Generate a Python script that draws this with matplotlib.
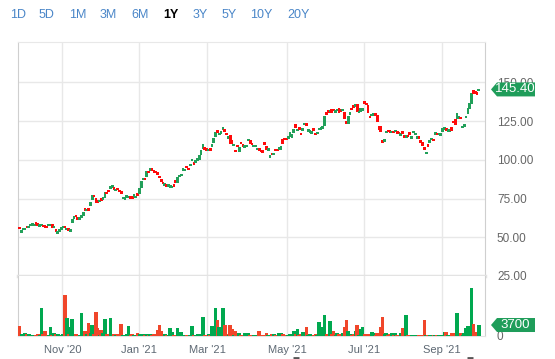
import numpy as np
import pandas as pd
import matplotlib
matplotlib.use('Agg')
import matplotlib.pyplot as plt
from matplotlib.patches import Polygon
import matplotlib.transforms as mtransforms

plt.rcParams['font.family'] = ['Liberation Sans', 'DejaVu Sans']

# trading days, Sep 29 2020 .. Sep 30 2021
holidays = ['2020-11-26', '2020-12-25', '2021-01-01', '2021-01-18', '2021-02-15',
            '2021-04-02', '2021-05-31', '2021-07-05', '2021-09-06']
days = pd.bdate_range('2020-09-29', '2021-09-30')
days = days[~days.isin(pd.to_datetime(holidays))]

opens = [56.5, 53, 55, 55, 57, 56, 57, 58, 57.5, 59.5,
         59, 57, 57.5, 57.5, 57.5, 57, 57, 57.5, 58.5, 56,
         55, 52.5, 53.5, 55, 56, 57, 55, 55.5, 54, 59,
         62, 64.5, 62.5, 61.5, 62.5, 64, 68.5, 67, 68.5, 70,
         74, 77, 75.5, 74, 73, 75, 74.5, 75.5, 79, 80.5,
         81, 82, 82, 80, 81.5, 80.5, 79.5, 75, 74.5, 75.5,
         75.5, 76, 76, 76.5, 75.5, 78, 78, 82, 87, 88,
         89, 92.5, 93, 94.5, 93, 92.5, 92, 89.5, 87, 85.5,
         83, 84, 82.5, 82, 82, 84, 87, 85, 89, 90,
         92.5, 93, 95.5, 94.5, 96, 99, 98, 98.5, 99, 100,
         103, 107, 108, 107, 106, 107.5, 108, 111, 115, 119,
         116, 117, 119, 119, 117.5, 114, 116, 113, 109, 106,
         109, 105, 111, 109.5, 108, 108.5, 112, 113, 111, 108.5,
         108.5, 106.5, 107, 106, 105.5, 111, 109, 106.5, 101.5, 104,
         103.5, 106.5, 106.5, 107, 106, 113.5, 114, 113.5, 114, 115,
         114, 117, 123, 118.5, 121, 117, 119, 122.5, 124, 118.5,
         117.5, 117.5, 120, 117, 116.5, 119.5, 120, 120.5, 122, 130.5,
         132, 131, 132.5, 132.5, 131, 131.5, 133.5, 132, 131.5, 131,
         125, 123, 129, 133, 134.5, 134.5, 136, 130.5, 131, 132,
         137.5, 136.5, 135.5, 128, 128.5, 129, 129.5, 129, 122, 122,
         112.5, 112, 117.5, 119, 119, 117.5, 118.5, 118, 118, 117.5,
         116, 118, 116, 114.5, 116, 117.5, 114, 117.5, 116, 114,
         115, 112.5, 111.5, 108.5, 104, 109.5, 111.5, 113, 113, 116.5,
         117.5, 116, 116, 118, 120, 120, 118.5, 118.5, 121, 125,
         126, 126, 126.5, 127.5, 120.5, 121, 127, 129.5, 133, 136,
         145, 144, 143.5, 144.5]

closes = [55.5, 54.5, 55.5, 55.8, 56, 57.5, 58.5, 58.5, 58, 58.5,
          57.5, 58, 58.5, 57, 56.5, 56, 58.5, 58.5, 56, 57,
          53.5, 53.5, 55, 56, 57, 56, 55.5, 54.3, 55, 61.5,
          63.5, 63, 61.5, 62.5, 64, 66.5, 67.5, 68, 67.5, 72.5,
          77.5, 76, 72, 72, 74, 74, 75.5, 79, 78, 79.5,
          83, 83.5, 81, 81, 80.5, 79.5, 78.5, 76, 75.5, 77,
          76.5, 75.5, 75.5, 77.5, 76.5, 77, 81.5, 86, 88.5, 87.5,
          92.5, 92, 95, 92.5, 92, 91.5, 90, 88, 86, 84.5,
          85, 83, 84.5, 83.5, 83, 83, 85, 89, 90, 90.5,
          95, 93.5, 95, 93.5, 97, 100.5, 97, 99, 101, 103,
          106, 110, 106, 106, 106.5, 106, 110, 114, 118, 117,
          117, 118, 121, 118.5, 116, 115, 110, 110.5, 110, 105.5,
          108.5, 108, 110.5, 109, 109, 109, 113.5, 110.5, 109.5, 109.5,
          109, 107.5, 106, 105, 105, 110, 106.5, 107, 102.5, 103.5,
          104, 106, 106, 107.5, 109, 110.5, 113, 113, 114.5, 118,
          116.5, 120, 120.5, 120, 119.5, 116, 120, 124, 122, 119.5,
          119, 118, 119, 116.5, 118, 120.5, 120.5, 121, 128, 129.5,
          130.5, 132, 130.5, 131.5, 131.5, 132.5, 130.5, 131.5, 132.5, 126,
          123, 128, 131, 132.5, 134, 135.5, 131, 131, 133.5, 133,
          136.5, 135.5, 130.5, 127, 129, 129.5, 129, 124.5, 119, 118,
          111, 113, 118.5, 118, 117.5, 118.5, 117.5, 119, 117, 117,
          116.5, 117, 114, 115.5, 115, 116.5, 115, 118.5, 117.5, 115,
          114, 111, 109, 106.5, 104.5, 109, 112, 114, 112.5, 117.5,
          116, 117, 116.5, 120.5, 120.5, 119, 119, 119.5, 118.5, 123.5,
          122.5, 130, 128, 126.5, 121.5, 123, 128, 133.5, 136.5, 143,
          142.5, 143, 142, 145.4]

volumes = [3400, 700, 600, 900, 600, 600, 400, 500, 500, 500,
           700, 500, 9400, 600, 1700, 500, 400, 3100, 500, 1000,
           600, 600, 500, 400, 600, 13800, 5900, 600, 3100, 5600,
           700, 600, 500, 400, 7600, 700, 1700, 600, 4300, 900,
           3700, 600, 8100, 2800, 500, 2000, 1000, 5700, 600, 500,
           5900, 600, 600, 500, 600, 500, 4000, 500, 500, 600,
           3400, 400, 600, 500, 400, 900, 800, 600, 700, 500,
           800, 400, 600, 500, 700, 400, 2000, 3700, 1800, 500,
           600, 400, 500, 2700, 1400, 500, 400, 2800, 500, 1300,
           400, 300, 400, 300, 500, 3500, 400, 500, 600, 500,
           700, 6500, 400, 500, 600, 400, 3500, 700, 9500, 5400,
           3100, 600, 9500, 3700, 600, 500, 3700, 2200, 500, 1700,
           600, 1000, 500, 400, 1000, 900, 1000, 500, 400, 500,
           400, 500, 1700, 400, 300, 500, 1000, 400, 500, 600,
           600, 500, 400, 1000, 1000, 800, 500, 400, 500, 600,
           700, 1700, 600, 2200, 500, 600, 1300, 500, 3100, 500,
           600, 500, 400, 700, 500, 4800, 3000, 600, 7100, 800,
           700, 5100, 600, 1700, 500, 900, 600, 500, 900, 3100,
           5400, 1700, 600, 500, 600, 1700, 3700, 500, 2200, 3100,
           700, 600, 500, 600, 1300, 1000, 500, 1000, 700, 3000,
           6500, 800, 1000, 500, 600, 900, 500, 900, 400, 500,
           900, 2600, 600, 7100, 300, 300, 200, 300, 200, 300,
           300, 300, 400, 5400, 300, 200, 300, 200, 300, 200,
           300, 200, 300, 400, 1300, 1300, 400, 500, 900, 900,
           800, 7800, 800, 900, 500, 900, 2700, 3400, 2000, 16000,
           3900, 1500, 1400, 3700]

tick_months = ['2020-11-01', '2021-01-01', '2021-03-01', '2021-05-01', '2021-07-01', '2021-09-01']
tick_labels = ["Nov '20", "Jan '21", "Mar '21", "May '21", "Jul '21", "Sep '21"]
price_ticks = [25, 50, 75, 100, 125, 150]
event_days = ['2021-05-07', '2021-09-23']
ranges = ['1D', '5D', '1M', '3M', '6M', '1Y', '3Y', '5Y', '10Y', '20Y']
range_x = [10, 39, 69, 100, 131, 163, 193, 222, 250, 287]   # pixel left edges
active_range = '1Y'

W, H = 555, 359
o = np.array(opens)
c = np.array(closes)
v = np.array(volumes)
x = np.arange(len(days))
up = c >= o

fig = plt.figure(figsize=(W / 100, H / 100), dpi=100)
ax_p = fig.add_axes([18 / W, (H - 276) / H, 467 / W, 234 / H])
ax_v = fig.add_axes([18 / W, (H - 336) / H, 467 / W, 60 / H])

tick_pos = [np.searchsorted(days, pd.Timestamp(m)) - 0.5 for m in tick_months]
xlim = (-0.9, 256.4)

# candles (bodies only, min height so flat days still show)
body_h = np.maximum(np.abs(c - o), 1.6)
body_lo = (o + c) / 2 - body_h / 2
ax_p.bar(x, body_h, bottom=body_lo, width=1.5,
         color=np.where(up, '#22a05a', '#ff0a0a'), linewidth=0, zorder=3)
ax_p.set_xlim(*xlim)
ax_p.set_ylim(25, 176)
ax_p.set_xticks(tick_pos)
ax_p.set_yticks(price_ticks)
ax_p.set_yticklabels(['%.2f' % t for t in price_ticks])
ax_p.yaxis.tick_right()
ax_p.tick_params(axis='x', length=0, labelbottom=False)
ax_p.tick_params(axis='y', length=0, pad=8.6, labelsize=8.5, labelcolor='#666666')
ax_p.grid(color='#e8e8e8', linewidth=1)
ax_p.set_axisbelow(True)
for s in ['left', 'right']:
    ax_p.spines[s].set_color('#cfcfcf')
ax_p.spines['top'].set_color('#e8e8e8')
ax_p.spines['bottom'].set_color('#e3e3e3')
ax_p.spines['bottom'].set_linewidth(2.5)

# volume
ax_v.bar(x, v, width=2.0, color=np.where(up, '#00a84f', '#f0462a'), linewidth=0, zorder=3)
ax_v.set_xlim(*xlim)
ax_v.set_ylim(0, 20200)
ax_v.set_xticks(tick_pos)
ax_v.set_xticklabels(tick_labels)
ax_v.set_yticks([0])
ax_v.set_yticklabels(['0'])
ax_v.yaxis.tick_right()
ax_v.tick_params(axis='x', length=0, pad=6.5, labelsize=8, labelcolor='#5d6873')
ax_v.tick_params(axis='y', length=0, pad=8.6, labelsize=8.5, labelcolor='#666666')
ax_v.grid(axis='x', color='#e8e8e8', linewidth=1)
ax_v.set_axisbelow(True)
ax_v.spines['top'].set_visible(False)
for s in ['left', 'right']:
    ax_v.spines[s].set_color('#cfcfcf')
ax_v.spines['bottom'].set_color('#e3e3e3')

# event markers under the axis
ev = [np.searchsorted(days, pd.Timestamp(d)) for d in event_days]
trans = mtransforms.blended_transform_factory(ax_v.transData, ax_v.transAxes)
ax_v.plot(ev, [-0.36] * len(ev), linestyle='none', marker='_', markersize=5,
          markeredgewidth=2, color='#555555', transform=trans, clip_on=False)


# last-value tags on the right axis
def tag(ax, yval, label):
    fig.canvas.draw()
    px_right = ax.transAxes.transform((1, 0))[0]
    py = ax.transData.transform((0, yval))[1]
    x0, x1, h = px_right + 6, px_right + 50, 7
    pts = [(x0, py), (x0 + 6, py + h), (x1, py + h), (x1, py - h), (x0 + 6, py - h)]
    fig.patches.append(Polygon(pts, closed=True, facecolor='#1f9d5a', edgecolor='none',
                               transform=mtransforms.IdentityTransform(), figure=fig))
    fig.text((x0 + 4 + x1) / 2 / W, py / H, label, color='white', fontsize=9.5,
             ha='center', va='center')


tag(ax_p, closes[-1], '%.2f' % closes[-1])
tag(ax_v, volumes[-1], '%d' % volumes[-1])

# range selector
for lab, px in zip(ranges, range_x):
    act = lab == active_range
    fig.text(px / W, 1 - 15 / H, lab, fontsize=9, ha='left', va='center',
             color='black' if act else '#4a86c8', fontweight='bold' if act else 'normal')

fig.savefig('out.png', dpi=100)
